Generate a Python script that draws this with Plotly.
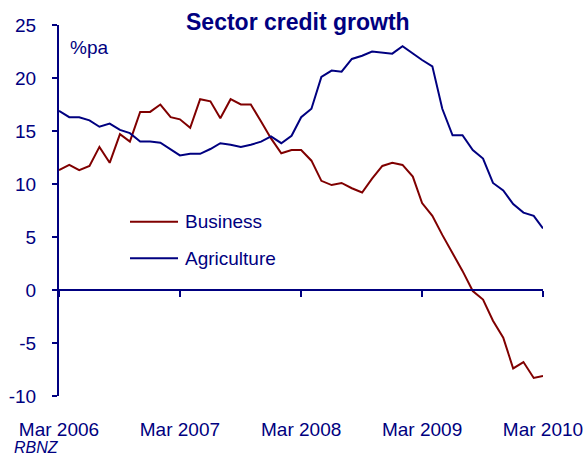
import pandas as pd
import plotly.graph_objects as go

# Monthly observations, Mar 2006 - Mar 2010 (annual % change)
months = pd.date_range(start="2006-03-01", periods=49, freq="MS")

business = [
    11.3, 11.8, 11.3, 11.7, 13.5, 12.0, 14.7, 14.0, 16.8, 16.8, 17.5, 16.3,
    16.1, 15.3, 18.0, 17.8, 16.2, 18.0, 17.5, 17.5, 15.9, 14.3, 12.9, 13.2,
    13.2, 12.2, 10.3, 9.9, 10.1, 9.6, 9.2, 10.5, 11.7, 12.0, 11.8, 10.7,
    8.2, 7.0, 5.2, 3.5, 1.8, -0.1, -0.9, -2.9, -4.5, -7.4, -6.8, -8.3, -8.1,
]

agriculture = [
    16.9, 16.3, 16.3, 16.0, 15.4, 15.7, 15.1, 14.8, 14.0, 14.0, 13.9, 13.3,
    12.7, 12.85, 12.85, 13.3, 13.85, 13.7, 13.5, 13.7, 14.0, 14.5, 13.85, 14.55,
    16.3, 17.1, 20.1, 20.7, 20.6, 21.8, 22.1, 22.5, 22.4, 22.3, 23.0, 22.3,
    21.7, 21.1, 17.1, 14.6, 14.6, 13.2, 12.4, 10.1, 9.4, 8.1, 7.3, 7.0, 5.8,
]

tick_dates = ["2006-03-01", "2007-03-01", "2008-03-01", "2009-03-01", "2010-03-01"]
tick_labels = ["Mar 2006", "Mar 2007", "Mar 2008", "Mar 2009", "Mar 2010"]
y_ticks = [-10, -5, 0, 5, 10, 15, 20, 25]
y_tick_labels = ["-10", "-5", "0", "5", "10", "15", "20", "25"]

NAVY = "#000080"
MAROON = "#800000"
FONT = "Liberation Sans, Arial, sans-serif"

Y_MIN, Y_MAX = -10, 25

fig = go.Figure()
fig.add_trace(go.Scatter(x=months, y=business, mode="lines", name="Business",
                         line=dict(color=MAROON, width=2), showlegend=False))
fig.add_trace(go.Scatter(x=months, y=agriculture, mode="lines", name="Agriculture",
                         line=dict(color=NAVY, width=2), showlegend=False))

fig.update_layout(
    width=586, height=455,
    margin=dict(l=59, r=43, t=25, b=59, autoexpand=False),
    paper_bgcolor="white", plot_bgcolor="white",
    font=dict(family=FONT, color=NAVY, size=19),
    # time axis crosses at y = 0; its labels sit below the plot area
    xaxis=dict(
        anchor="free", position=(0 - Y_MIN) / (Y_MAX - Y_MIN),
        range=[tick_dates[0], tick_dates[-1]], tickvals=tick_dates, ticktext=tick_labels,
        showgrid=False, zeroline=False, showline=True, linecolor=NAVY, linewidth=2,
        ticks="outside", ticklen=6, tickwidth=2, tickcolor=NAVY,
        ticklabelstandoff=116, tickfont=dict(size=19, color=NAVY),
        automargin=False,
    ),
    yaxis=dict(
        anchor="x", range=[Y_MIN, Y_MAX], tickvals=y_ticks, ticktext=y_tick_labels,
        showgrid=False, zeroline=False,
        showline=True, linecolor=NAVY, linewidth=2,
        ticks="outside", ticklen=5, tickwidth=2, tickcolor=NAVY,
        ticklabelstandoff=12, tickfont=dict(size=19, color=NAVY),
        automargin=False,
    ),
)

# Legend drawn as sample lines with labels
legend_items = [("Business", MAROON, 0.470), ("Agriculture", NAVY, 0.371)]
for label, colour, ypos in legend_items:
    fig.add_shape(type="line", xref="paper", yref="paper",
                  x0=0.1467, x1=0.2459, y0=ypos, y1=ypos,
                  line=dict(color=colour, width=2))
    fig.add_annotation(text=label, xref="paper", yref="paper", x=0.2562, y=ypos,
                       xanchor="left", yanchor="middle", showarrow=False,
                       font=dict(size=19, color=NAVY, family=FONT))

fig.add_annotation(text="<b>Sector credit growth</b>", xref="paper", yref="paper",
                   x=0.494, y=1.007, xanchor="center", yanchor="middle",
                   showarrow=False, font=dict(size=23, color=NAVY, family=FONT))
fig.add_annotation(text="%pa", xref="paper", yref="paper", x=0.0186, y=0.94,
                   xanchor="left", yanchor="middle", showarrow=False,
                   font=dict(size=19, color=NAVY, family=FONT))
fig.add_annotation(text="<i>RBNZ</i>", xref="paper", yref="paper", x=-0.0977, y=-0.139,
                   xanchor="left", yanchor="middle", showarrow=False,
                   font=dict(size=16, color=NAVY, family=FONT))

fig.write_html("out.html")
